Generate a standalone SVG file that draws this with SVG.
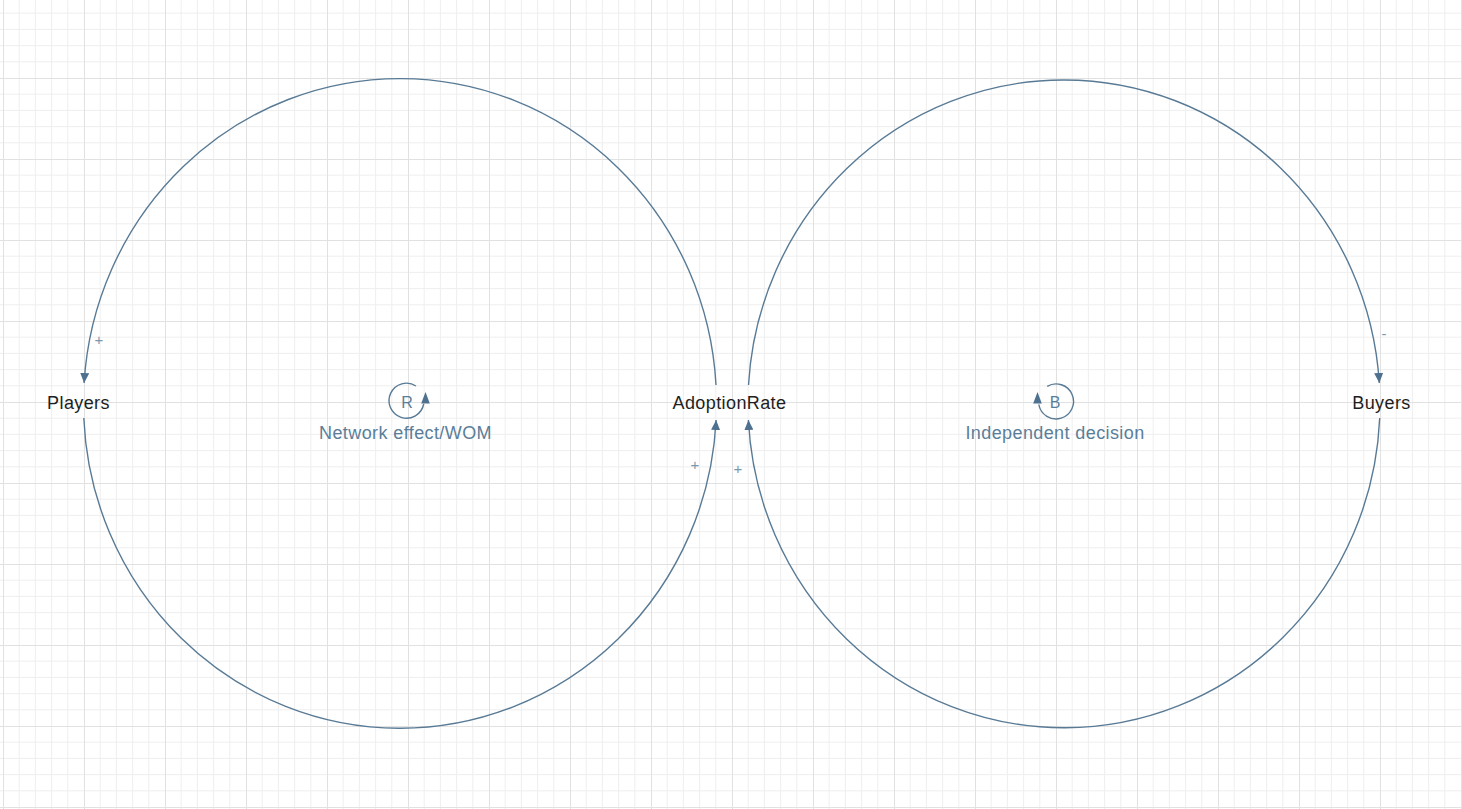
<svg xmlns="http://www.w3.org/2000/svg" width="1462" height="809" viewBox="0 0 1462 809">
  <style>
    .link { fill: none; stroke: #587a95; stroke-width: 1.4; }
    .node { font-family: "Liberation Sans", Arial, sans-serif; font-size: 18px; fill: #1e1e1e; text-anchor: middle; letter-spacing: 0.4px; }
    .loopname { font-family: "Liberation Sans", Arial, sans-serif; font-size: 18px; fill: #5a7e9a; text-anchor: middle; letter-spacing: 0.4px; }
    .loopsym { font-family: "Liberation Sans", Arial, sans-serif; font-size: 16px; fill: #5a7e9a; text-anchor: middle; }
    .sign { font-family: "Liberation Sans", Arial, sans-serif; font-size: 15px; fill: #7d98ad; text-anchor: middle; }
    .loopicon { fill: none; stroke: #587a95; stroke-width: 1.4; }
    .head { fill: #4e7190; }
  </style>
  <defs>
    <pattern id="grid" patternUnits="userSpaceOnUse" x="3" y="-3" width="81" height="81">
      <rect width="81" height="81" fill="#ffffff"/>
      <path d="M16.2,0V81M32.4,0V81M48.6,0V81M64.8,0V81M0,16.2H81M0,32.4H81M0,48.6H81M0,64.8H81" stroke="#efefef" stroke-width="1"/>
      <path d="M0.5,0V81M0,0.5H81" stroke="#e1e1e1" stroke-width="1"/>
    </pattern>
    <marker id="arrow" markerUnits="userSpaceOnUse" markerWidth="11" markerHeight="9" refX="10" refY="4.5" orient="auto">
      <path d="M0,0 L10,4.5 L0,9 z" class="head"/>
    </marker>
  </defs>
  <rect x="0" y="0" width="1462" height="809" fill="url(#grid)"/>

  <g id="connectors">
    <path class="link" d="M716,385 A316.5,324.5 0 0 0 84.1,383" marker-end="url(#arrow)"/>
    <path class="link" d="M83.8,418 A316.5,324.5 0 0 0 716.1,420" marker-end="url(#arrow)"/>
    <path class="link" d="M748.5,385 A316,324 0 0 1 1379.3,383" marker-end="url(#arrow)"/>
    <path class="link" d="M1379.7,418 A316,324 0 0 1 748.4,420" marker-end="url(#arrow)"/>
    <text class="sign" x="99" y="345">+</text>
    <text class="sign" x="695" y="470">+</text>
    <text class="sign" x="738" y="474">+</text>
    <text class="sign" x="1384" y="339">-</text>
  </g>

  <g id="node-players">
    <text class="node" x="78.5" y="409">Players</text>
  </g>
  <g id="node-adoptionrate">
    <text class="node" x="729.5" y="409">AdoptionRate</text>
  </g>
  <g id="node-buyers">
    <text class="node" x="1381.5" y="409">Buyers</text>
  </g>

  <g id="loop-r">
    <path class="loopicon" d="M423.7,404 A17.5,17.5 0 1 1 416,386"/>
    <polygon class="head" points="425.5,392 421.2,403.5 429.8,403.5"/>
    <text class="loopsym" x="407" y="408">R</text>
    <text class="loopname" x="405.5" y="439">Network effect/WOM</text>
  </g>
  <g id="loop-b">
    <path class="loopicon" d="M1038.8,404.5 A17.5,17.5 0 1 0 1047.2,386.3"/>
    <polygon class="head" points="1037.5,392 1033.2,403.5 1041.8,403.5"/>
    <text class="loopsym" x="1055" y="408">B</text>
    <text class="loopname" x="1055" y="439">Independent decision</text>
  </g>
</svg>
